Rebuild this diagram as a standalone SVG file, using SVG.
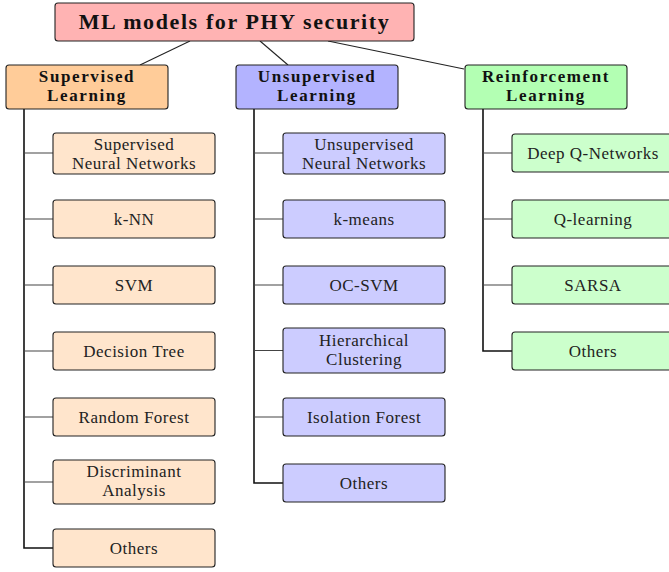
<svg xmlns="http://www.w3.org/2000/svg" width="669" height="572" viewBox="0 0 669 572">
<style>
.box{stroke:#222;stroke-width:1.1}
text{font-family:'Liberation Serif','DejaVu Serif',serif}
.t{font-size:17px;fill:#222;text-anchor:middle;letter-spacing:0.5px}
.h{font-size:17px;font-weight:bold;fill:#111;text-anchor:middle;letter-spacing:1.6px}
.ti{font-size:22px;font-weight:bold;fill:#111;text-anchor:middle;letter-spacing:1.6px}
.root{fill:#ffb3b3}
.so{fill:#ffcc99}.sl{fill:#ffe5cc}
.uo{fill:#b3b3ff}.ul{fill:#ccccff}
.ro{fill:#b3ffb3}.rl{fill:#ccffcc}
.trunk{stroke:#111;stroke-width:1.6;fill:none}
.br{stroke:#444;stroke-width:1.2;fill:none}
.edge{stroke:#222;stroke-width:1.1;fill:none}
</style>
<g id="connectors">
<line class="edge" x1="190" y1="41" x2="140" y2="65"/>
<line class="edge" x1="260" y1="41" x2="288" y2="65"/>
<line class="edge" x1="328" y1="41" x2="464" y2="69"/>
<path class="trunk" d="M24 109V548H53"/>
<path class="br" d="M24 153H53M24 219H53M24 285H53M24 351H53M24 417H53M24 482H53"/>
<path class="trunk" d="M254 109V483H283"/>
<path class="br" d="M254 153H283M254 219H283M254 285H283M254 350.5H283M254 417H283"/>
<path class="trunk" d="M483 109V351H512"/>
<path class="br" d="M483 153H512M483 219H512M483 285H512"/>
</g>
<g id="root"><rect class="box root" x="55" y="3" width="359" height="38" rx="3"/><text class="ti" x="234.5" y="29">ML models for PHY security</text></g>
<g id="supervised"><rect class="box so" x="6" y="65" width="162" height="44" rx="3"/><text class="h" x="87" y="82">Supervised</text><text class="h" x="87" y="101">Learning</text></g>
<g id="unsupervised"><rect class="box uo" x="236" y="65" width="162" height="44" rx="3"/><text class="h" x="317" y="82">Unsupervised</text><text class="h" x="317" y="101">Learning</text></g>
<g id="reinforcement"><rect class="box ro" x="465" y="65" width="162" height="44" rx="3"/><text class="h" x="546" y="82">Reinforcement</text><text class="h" x="546" y="101">Learning</text></g>

<g id="s1"><rect class="box sl" x="53" y="133" width="162" height="41" rx="3"/><text class="t" x="134" y="150">Supervised</text><text class="t" x="134" y="169">Neural Networks</text></g>
<g id="s2"><rect class="box sl" x="53" y="200" width="162" height="38" rx="3"/><text class="t" x="134" y="225">k-NN</text></g>
<g id="s3"><rect class="box sl" x="53" y="266" width="162" height="38" rx="3"/><text class="t" x="134" y="291">SVM</text></g>
<g id="s4"><rect class="box sl" x="53" y="332" width="162" height="38" rx="3"/><text class="t" x="134" y="357">Decision Tree</text></g>
<g id="s5"><rect class="box sl" x="53" y="398" width="162" height="38" rx="3"/><text class="t" x="134" y="423">Random Forest</text></g>
<g id="s6"><rect class="box sl" x="53" y="460" width="162" height="44" rx="3"/><text class="t" x="134" y="477">Discriminant</text><text class="t" x="134" y="496">Analysis</text></g>
<g id="s7"><rect class="box sl" x="53" y="529" width="162" height="38" rx="3"/><text class="t" x="134" y="554">Others</text></g>

<g id="u1"><rect class="box ul" x="283" y="133" width="162" height="41" rx="3"/><text class="t" x="364" y="150">Unsupervised</text><text class="t" x="364" y="169">Neural Networks</text></g>
<g id="u2"><rect class="box ul" x="283" y="200" width="162" height="38" rx="3"/><text class="t" x="364" y="225">k-means</text></g>
<g id="u3"><rect class="box ul" x="283" y="266" width="162" height="38" rx="3"/><text class="t" x="364" y="291">OC-SVM</text></g>
<g id="u4"><rect class="box ul" x="283" y="328" width="162" height="45" rx="3"/><text class="t" x="364" y="346">Hierarchical</text><text class="t" x="364" y="365">Clustering</text></g>
<g id="u5"><rect class="box ul" x="283" y="398" width="162" height="38" rx="3"/><text class="t" x="364" y="423">Isolation Forest</text></g>
<g id="u6"><rect class="box ul" x="283" y="464" width="162" height="38" rx="3"/><text class="t" x="364" y="489">Others</text></g>

<g id="r1"><rect class="box rl" x="512" y="134" width="163" height="38" rx="3"/><text class="t" x="593" y="159">Deep Q-Networks</text></g>
<g id="r2"><rect class="box rl" x="512" y="200" width="163" height="38" rx="3"/><text class="t" x="593" y="225">Q-learning</text></g>
<g id="r3"><rect class="box rl" x="512" y="266" width="163" height="38" rx="3"/><text class="t" x="593" y="291">SARSA</text></g>
<g id="r4"><rect class="box rl" x="512" y="332" width="163" height="38" rx="3"/><text class="t" x="593" y="357">Others</text></g>
</svg>
